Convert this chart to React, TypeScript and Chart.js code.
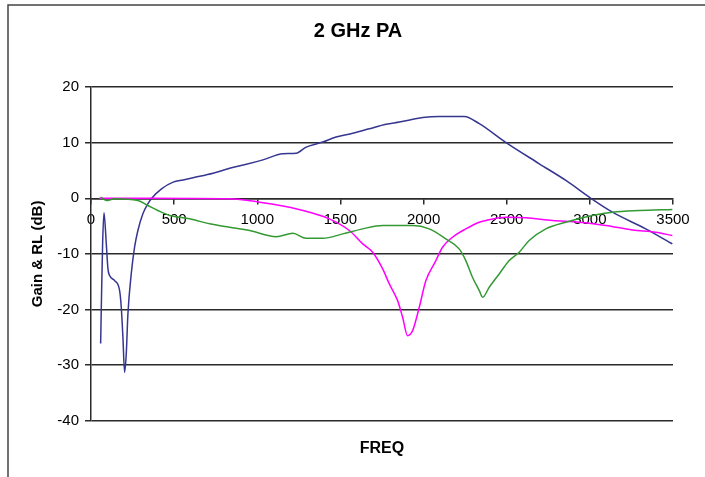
import React, { useEffect, useRef } from "react";
import { Chart, registerables } from "chart.js";

Chart.register(...registerables);

const FONT = "'Liberation Sans', Arial, Helvetica, sans-serif";

const chartTitle = "2 GHz PA";
const xTitle = "FREQ";
const yTitle = "Gain & RL (dB)";

const xTickMin = 0;
const xTickMax = 3500;
const xTickStep = 500;
const yTickMin = -40;
const yTickMax = 20;
const yTickStep = 10;

// Gain (blue)
const gainFreq = [58, 63, 70, 78, 92, 102, 112, 142, 172, 182, 192, 202, 212, 222, 242, 262, 282, 312, 342, 365, 424, 494, 554, 614, 734, 834, 934, 1034, 1154, 1234, 1294, 1394, 1474, 1574, 1674, 1774, 1855, 1995, 2095, 2245, 2335, 2496, 2696, 2856, 3006, 3136, 3336, 3496];
const gainDb = [-26.1, -18, -8, -2.6, -8.2, -12.7, -13.9, -14.8, -16.6, -19.6, -25, -31.3, -28, -20.8, -13.6, -8.8, -5.8, -2.8, -1, 0, 1.7, 2.9, 3.3, 3.7, 4.5, 5.4, 6.1, 6.9, 8.0, 8.1, 9.2, 10.1, 11.0, 11.7, 12.5, 13.3, 13.7, 14.5, 14.7, 14.7, 13.4, 10.0, 6.2, 3.2, 0, -2.5, -5.5, -8.2];

// Return loss 1 (magenta)
const rl1Freq = [50, 354, 834, 1014, 1154, 1314, 1434, 1554, 1634, 1694, 1754, 1794, 1844, 1874, 1904, 1934, 1974, 2014, 2074, 2114, 2174, 2254, 2335, 2375, 2495, 2615, 2775, 2935, 3096, 3256, 3396, 3496];
const rl1Db = [0, 0, -0.1, -0.7, -1.4, -2.5, -3.7, -5.8, -8.2, -9.7, -12.7, -15.4, -18.4, -21.4, -24.7, -23.8, -19.6, -14.8, -11.2, -8.8, -7.0, -5.5, -4.3, -4.0, -3.4, -3.5, -4.0, -4.3, -4.9, -5.7, -6.1, -6.7];

// Return loss 2 (green)
const rl2Freq = [58, 92, 142, 282, 342, 402, 474, 594, 714, 834, 954, 1114, 1214, 1294, 1394, 1514, 1634, 1754, 1874, 1934, 2034, 2134, 2214, 2254, 2294, 2335, 2355, 2395, 2455, 2515, 2575, 2635, 2735, 2855, 3015, 3136, 3296, 3496];
const rl2Db = [0.2, -0.4, -0.1, -0.4, -1.3, -2.2, -3.1, -3.7, -4.6, -5.2, -5.8, -6.9, -6.3, -7.2, -7.2, -6.4, -5.5, -4.9, -4.9, -4.9, -5.5, -7.3, -9.1, -11.2, -14.2, -16.6, -17.8, -16.0, -13.6, -11.2, -9.7, -7.6, -5.5, -4.3, -3.1, -2.5, -2.2, -2.0];

const toPoints = (xs: number[], ys: number[]) => xs.map((x, i) => ({ x, y: ys[i] }));

const framePlugin = {
  id: "frame",
  beforeDraw(chart: any) {
    const ctx = chart.ctx;
    ctx.save();
    ctx.fillStyle = "#ffffff";
    ctx.fillRect(0, 0, chart.width, chart.height);
    ctx.strokeStyle = "#444444";
    ctx.lineWidth = 1.5;
    ctx.beginPath();
    ctx.moveTo(8, chart.height + 5);
    ctx.lineTo(8, 5);
    ctx.lineTo(chart.width + 5, 5);
    ctx.stroke();
    ctx.restore();
  },
};

const lineStyle = {
  borderWidth: 1.5,
  pointRadius: 0,
  tension: 0,
  cubicInterpolationMode: "monotone",
  fill: false,
  xAxisID: "x",
  yAxisID: "y",
};

export default function App() {
  const canvasRef = useRef<HTMLCanvasElement | null>(null);

  useEffect(() => {
    if (!canvasRef.current) return;
    const gridColor = "#2a2a2a";
    const chart = new Chart(canvasRef.current, {
      type: "line",
      data: {
        datasets: [
          { label: "RL2", data: toPoints(rl2Freq, rl2Db), borderColor: "#339933", ...lineStyle },
          { label: "RL1", data: toPoints(rl1Freq, rl1Db), borderColor: "#ff00ff", ...lineStyle },
          { label: "Gain", data: toPoints(gainFreq, gainDb), borderColor: "#363691", ...lineStyle },
        ],
      },
      options: {
        responsive: false,
        animation: false,
        devicePixelRatio: 1,
        layout: { padding: { left: 11, right: 0, top: 0, bottom: 0 } },
        plugins: {
          legend: { display: false },
          tooltip: { enabled: false },
          title: {
            display: true,
            text: chartTitle,
            color: "#000",
            font: { family: FONT, size: 20, weight: "bold" },
            padding: { top: 19, bottom: 44 },
          },
          subtitle: {
            display: true,
            position: "bottom",
            fullSize: false,
            text: xTitle,
            color: "#000",
            font: { family: FONT, size: 16, weight: "bold" },
            padding: { top: 18, bottom: 19 },
          },
        },
        scales: {
          x: {
            type: "linear",
            min: xTickMin,
            max: xTickMax,
            position: { y: 0 },
            ticks: {
              stepSize: xTickStep,
              color: "#000",
              font: { family: FONT, size: 15 },
              padding: 8,
              maxRotation: 0,
              autoSkip: false,
              callback: (v: any) => String(v),
            },
            grid: {
              display: true,
              drawOnChartArea: false,
              drawTicks: true,
              tickLength: 5,
              color: gridColor,
              lineWidth: 1.5,
            },
            border: { display: true, color: gridColor, width: 1.5 },
          },
          y: {
            type: "linear",
            position: "left",
            min: yTickMin,
            max: yTickMax,
            ticks: {
              stepSize: yTickStep,
              color: "#000",
              font: { family: FONT, size: 15 },
              padding: 6,
              callback: (v: any) => String(v),
            },
            grid: { color: gridColor, lineWidth: 1.5, tickLength: 6 },
            border: { display: true, color: gridColor, width: 1.5 },
            title: {
              display: true,
              text: yTitle,
              color: "#000",
              font: { family: FONT, size: 15, weight: "bold" },
              padding: { top: 18, bottom: 0 },
            },
            afterFit: (s: any) => {
              s.width = 80;
            },
          },
          yR: {
            type: "linear",
            position: "right",
            display: true,
            ticks: { display: false },
            grid: { display: false },
            border: { display: false },
            afterFit: (s: any) => {
              s.width = 32;
            },
          },
        },
      } as any,
      plugins: [framePlugin],
    });
    return () => chart.destroy();
  }, []);

  return (
    <div style={{ position: "absolute", left: 0, top: 0, width: 705, height: 477 }}>
      <canvas ref={canvasRef} width={705} height={477} style={{ display: "block" }} />
    </div>
  );
}
